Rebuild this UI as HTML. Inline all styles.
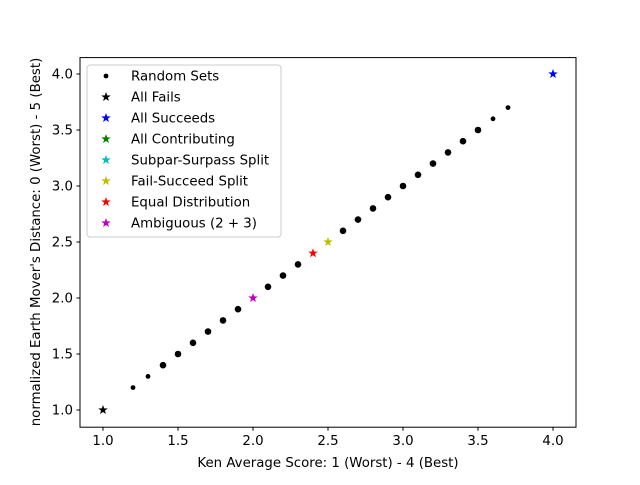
<!DOCTYPE html>
<html><head><meta charset="utf-8"><style>
body{margin:0;background:#fff}
svg text{font-family:"DejaVu Sans","Liberation Sans",sans-serif;font-size:13.33px;fill:#000}
</style></head><body>
<svg id="chart" width="640" height="480">
<rect x="0" y="0" width="640" height="480" fill="#fff"/>
<g id="marks"></g>
<rect x="80" y="57.6" width="496" height="369.6" fill="none" stroke="#000" stroke-width="1"/>
<g id="axes"></g>
<text x="328" y="467" text-anchor="middle">Ken Average Score: 1 (Worst) - 4 (Best)</text>
<text transform="translate(40,242) rotate(-90)" text-anchor="middle">normalized Earth Mover's Distance: 0 (Worst) - 5 (Best)</text>
<g id="legend"></g>
</svg>
<script>
const randX=[1.2,1.3,1.4,1.5,1.6,1.7,1.8,1.9,2.1,2.2,2.3,2.6,2.7,2.8,2.9,3.0,3.1,3.2,3.3,3.4,3.5,3.6,3.7];
const randY=[1.2,1.3,1.4,1.5,1.6,1.7,1.8,1.9,2.1,2.2,2.3,2.6,2.7,2.8,2.9,3.0,3.1,3.2,3.3,3.4,3.5,3.6,3.7];
const starNames=["All Fails","All Succeeds","All Contributing","Subpar-Surpass Split","Fail-Succeed Split","Equal Distribution","Ambiguous (2 + 3)"];
const starX=[1.0,4.0,null,null,2.5,2.4,2.0];
const starY=[1.0,4.0,null,null,2.5,2.4,2.0];
const starColors=["#000","#00f","#008000","#00bfbf","#bfbf00","#f00","#bf00bf"];
const xTicks=[1.0,1.5,2.0,2.5,3.0,3.5,4.0];
const yTicks=[1.0,1.5,2.0,2.5,3.0,3.5,4.0];
const NS="http://www.w3.org/2000/svg";
const sx=v=>103+(v-1)*150;
const sy=v=>410-(v-1)*112;
function starPath(cx,cy,R){let r=R*0.4,d="";for(let i=0;i<10;i++){const a=-Math.PI/2+i*Math.PI/5,rr=i%2?r:R;d+=(i?"L":"M")+(cx+rr*Math.cos(a)).toFixed(2)+" "+(cy+rr*Math.sin(a)).toFixed(2);}return d+"Z";}
const marks=document.getElementById("marks");
randX.forEach((x,i)=>{const c=document.createElementNS(NS,"circle");
c.setAttribute("cx",sx(x));c.setAttribute("cy",sy(randY[i]));
const small=(i<2||i>=randX.length-2);
c.setAttribute("r",small?2.4:3.3);c.setAttribute("fill","#000");


marks.appendChild(c);});
starX.forEach((x,i)=>{if(x===null)return;const p=document.createElementNS(NS,"path");
p.setAttribute("d",starPath(sx(x),sy(starY[i]),5));p.setAttribute("fill",starColors[i]);


marks.appendChild(p);});
const axes=document.getElementById("axes");
xTicks.forEach(t=>{const l=document.createElementNS(NS,"line");
l.setAttribute("x1",sx(t));l.setAttribute("x2",sx(t));l.setAttribute("y1",427.2);l.setAttribute("y2",430.7);l.setAttribute("stroke","#000");


axes.appendChild(l);
const tx=document.createElementNS(NS,"text");tx.setAttribute("x",sx(t));tx.setAttribute("y",445);tx.setAttribute("text-anchor","middle");tx.textContent=t.toFixed(1);


axes.appendChild(tx);});
yTicks.forEach(t=>{const l=document.createElementNS(NS,"line");
l.setAttribute("x1",76.5);l.setAttribute("x2",80);l.setAttribute("y1",sy(t));l.setAttribute("y2",sy(t));l.setAttribute("stroke","#000");


axes.appendChild(l);
const tx=document.createElementNS(NS,"text");tx.setAttribute("x",73);tx.setAttribute("y",sy(t)+4.5);tx.setAttribute("text-anchor","end");tx.textContent=t.toFixed(1);


axes.appendChild(tx);});
const lg=document.getElementById("legend");
const box=document.createElementNS(NS,"rect");
box.setAttribute("x",87);box.setAttribute("y",65);box.setAttribute("width",194);box.setAttribute("height",172);box.setAttribute("rx",3);box.setAttribute("fill","#fff");box.setAttribute("stroke","#ccc");


lg.appendChild(box);
const labels=["Random Sets"].concat(starNames);
labels.forEach((name,i)=>{const y=76+i*21;let m;
if(i===0){m=document.createElementNS(NS,"circle");m.setAttribute("cx",106);m.setAttribute("cy",y);m.setAttribute("r",2.4);m.setAttribute("fill","#000");}
else{m=document.createElementNS(NS,"path");m.setAttribute("d",starPath(106,y,5));m.setAttribute("fill",starColors[i-1]);}


lg.appendChild(m);
const t=document.createElementNS(NS,"text");t.setAttribute("x",131);t.setAttribute("y",y+4.5);t.textContent=name;


lg.appendChild(t);});
</script>
</body></html>
